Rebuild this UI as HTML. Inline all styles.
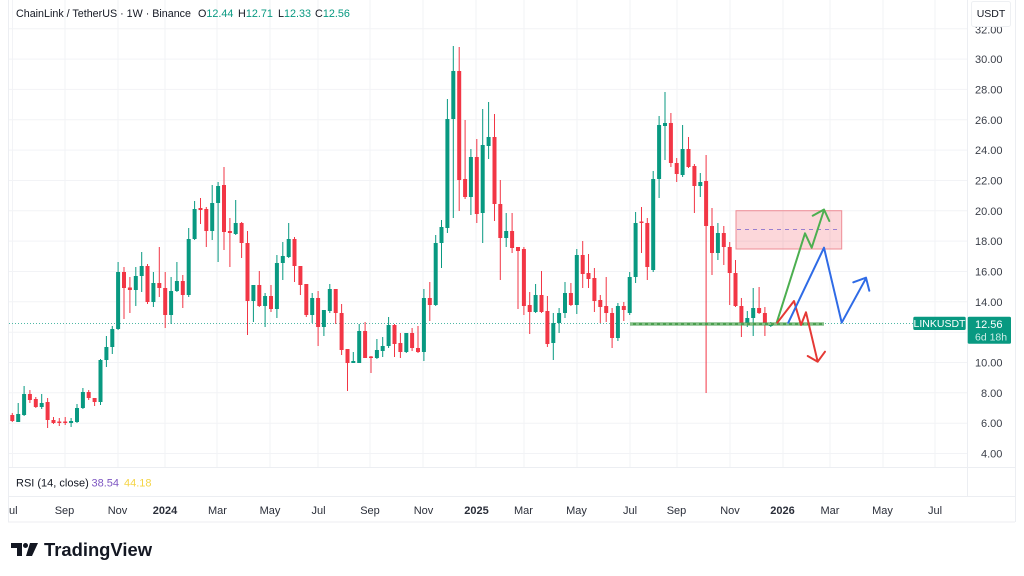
<!DOCTYPE html>
<html>
<head>
<meta charset="utf-8">
<style>
html,body{margin:0;padding:0;background:#fff;}
body{width:1024px;height:576px;overflow:hidden;font-family:"Liberation Sans",sans-serif;}
svg{display:block;}
text{font-family:"Liberation Sans",sans-serif;}
</style>
</head>
<body>
<svg width="1024" height="576" viewBox="0 0 1024 576" xmlns="http://www.w3.org/2000/svg">
<rect x="0" y="0" width="1024" height="576" fill="#ffffff"/>
<!-- frame -->
<g stroke="#eceef2" stroke-width="1" fill="none">
<line x1="8.5" y1="0" x2="8.5" y2="522"/>
<line x1="1015.5" y1="0" x2="1015.5" y2="522"/>
<line x1="8" y1="467.5" x2="1015" y2="467.5"/>
<line x1="8" y1="496.5" x2="1015" y2="496.5"/>
<line x1="8" y1="522" x2="1015" y2="522"/>
<line x1="967.5" y1="0" x2="967.5" y2="497"/>
</g>
<!-- horizontal grid -->
<g stroke="#f2f3f6" stroke-width="1">
<line x1="9" y1="28.8" x2="967" y2="28.8"/>
<line x1="9" y1="59.1" x2="967" y2="59.1"/>
<line x1="9" y1="89.4" x2="967" y2="89.4"/>
<line x1="9" y1="119.8" x2="967" y2="119.8"/>
<line x1="9" y1="150.1" x2="967" y2="150.1"/>
<line x1="9" y1="180.5" x2="967" y2="180.5"/>
<line x1="9" y1="210.8" x2="967" y2="210.8"/>
<line x1="9" y1="241.1" x2="967" y2="241.1"/>
<line x1="9" y1="271.5" x2="967" y2="271.5"/>
<line x1="9" y1="301.8" x2="967" y2="301.8"/>
<line x1="9" y1="332.2" x2="967" y2="332.2"/>
<line x1="9" y1="362.5" x2="967" y2="362.5"/>
<line x1="9" y1="392.8" x2="967" y2="392.8"/>
<line x1="9" y1="423.2" x2="967" y2="423.2"/>
<line x1="9" y1="453.5" x2="967" y2="453.5"/>
</g>
<!-- vertical grid -->
<g stroke="#f2f3f6" stroke-width="1">
<line x1="12.5" y1="0" x2="12.5" y2="467"/>
<line x1="65" y1="0" x2="65" y2="467"/>
<line x1="118" y1="0" x2="118" y2="467"/>
<line x1="165" y1="0" x2="165" y2="467"/>
<line x1="217" y1="0" x2="217" y2="467"/>
<line x1="270" y1="0" x2="270" y2="467"/>
<line x1="318" y1="0" x2="318" y2="467"/>
<line x1="370" y1="0" x2="370" y2="467"/>
<line x1="423" y1="0" x2="423" y2="467"/>
<line x1="476" y1="0" x2="476" y2="467"/>
<line x1="524" y1="0" x2="524" y2="467"/>
<line x1="577" y1="0" x2="577" y2="467"/>
<line x1="630" y1="0" x2="630" y2="467"/>
<line x1="677" y1="0" x2="677" y2="467"/>
<line x1="730" y1="0" x2="730" y2="467"/>
<line x1="783" y1="0" x2="783" y2="467"/>
<line x1="830" y1="0" x2="830" y2="467"/>
<line x1="883" y1="0" x2="883" y2="467"/>
<line x1="935" y1="0" x2="935" y2="467"/>
</g>

<!-- price line -->
<line x1="9" y1="323.5" x2="913" y2="323.5" stroke="#4fb8a5" stroke-width="1" stroke-dasharray="1 2"/>

<!-- rectangle zone -->
<rect x="736" y="210.7" width="105.7" height="38.3" fill="rgba(242,54,69,0.2)" stroke="#ee8d96" stroke-width="1"/>
<line x1="737" y1="229.5" x2="841" y2="229.5" stroke="#9a7fcf" stroke-width="1" stroke-dasharray="4 4"/>

<!-- green candles -->
<path stroke="#089981" stroke-width="1" fill="none" d="M18.2 403V422M24.1 386V416M41.7 394V409M71.1 418V427M77 404V423M82.9 388V409M100.5 359V405M106.4 336V367M112.3 326V354M118.1 262V330M135.8 267V306M141.7 252V292M153.4 272V307M171.1 277V324M176.9 262V292M188.7 228V297M194.6 201V240M212.2 185V240M218.1 182V262M235.7 200V235M253.4 285V322M265.1 293V327M276.9 255V318M282.8 242V280M288.7 223V258M312.2 293V323M323.9 310V336M329.8 284V313M353.3 352V363M359.2 324V363M376.9 339V359M382.7 337V357M388.6 317V348M406.3 333V353M423.9 289V361M435.7 235V306M441.5 220V268M447.4 99V233M453.3 46V218M470.9 149V215M482.7 109V243M488.6 102V159M506.2 213V247M535.6 284V313M553.3 313V360M559.1 308V333M565 282V318M576.8 249V314M617.9 303V341M629.7 272V315M635.6 212V283M653.2 171V272M659.1 116V198M665 92V160M682.6 125V177M700.3 173V197M717.9 223V260M747.3 311V327M753.2 288V336M770.8 322V327"/>
<path fill="#089981" d="M16.2 414h4V422h-4ZM22.1 394h4V415h-4ZM39.7 403h4V407h-4ZM69.1 421h4V423h-4ZM75 408h4V422h-4ZM80.9 392h4V408h-4ZM98.5 360h4V402h-4ZM104.4 347h4V360h-4ZM110.3 329h4V347h-4ZM116.1 272h4V329h-4ZM133.8 276h4V290h-4ZM139.7 266h4V276h-4ZM151.4 283h4V302h-4ZM169.1 291h4V315h-4ZM174.9 281h4V291h-4ZM186.7 239h4V295h-4ZM192.6 209h4V239h-4ZM210.2 203h4V231h-4ZM216.1 186h4V203h-4ZM233.7 223h4V234h-4ZM251.4 285h4V301h-4ZM263.1 296h4V306h-4ZM274.9 263h4V309h-4ZM280.8 256h4V263h-4ZM286.7 239h4V257h-4ZM310.2 298h4V315h-4ZM321.9 310h4V327h-4ZM327.8 289h4V311h-4ZM351.3 361h4V363h-4ZM357.2 331h4V363h-4ZM374.9 350h4V358h-4ZM380.7 346h4V351h-4ZM386.6 325h4V346h-4ZM404.3 333h4V352h-4ZM421.9 298h4V352h-4ZM433.7 243h4V305h-4ZM439.5 227h4V243h-4ZM445.4 119h4V228h-4ZM451.3 71h4V119h-4ZM468.9 157h4V197h-4ZM480.7 145h4V213h-4ZM486.6 137h4V146h-4ZM504.2 231h4V238h-4ZM533.6 295h4V312h-4ZM551.3 323h4V343h-4ZM557.1 313h4V323h-4ZM563 293h4V313h-4ZM574.8 255h4V305h-4ZM615.9 306h4V338h-4ZM627.7 277h4V313h-4ZM633.6 223h4V277h-4ZM651.2 179h4V270h-4ZM657.1 125h4V179h-4ZM663 123h4V126h-4ZM680.6 149h4V175h-4ZM698.3 182h4V186h-4ZM715.9 233h4V253h-4ZM745.3 318h4V325h-4ZM751.2 308h4V318h-4ZM768.8 323h4V326h-4Z"/>

<!-- red candles -->
<path stroke="#f23645" stroke-width="1" fill="none" d="M12.3 413V422M29.9 390V403M35.8 397V408M47.6 398V428M53.5 417V424M59.3 418V426M65.2 417V425M88.7 390V400M94.6 398V406M124 267V319M129.9 277V313M147.5 264V304M159.3 247V297M165.2 272V328M182.8 275V308M200.5 198V224M206.3 207V247M224 167V250M229.9 218V267M241.6 222V258M247.5 231V335M259.3 271V307M271 285V312M294.5 237V282M300.4 266V295M306.3 284V317M318.1 291V346M335.7 289V324M341.6 304V355M347.5 349V391M365.1 322V358M371 356V373M394.5 324V357M400.4 333V358M412.1 328V351M418 326V353M429.8 282V321M459.2 47V211M465.1 120V199M476.8 139V223M494.5 114V221M500.3 180V280M512.1 213V253M518 247V309M523.9 247V315M529.7 292V334M541.5 271V313M547.4 296V347M570.9 283V306M582.7 241V288M588.5 254V288M594.4 268V312M600.3 295V323M606.2 277V322M612.1 308V348M623.8 302V321M641.5 207V253M647.3 218V280M670.9 113V167M676.7 158V182M688.5 137V168M694.4 164V213M706.1 155V393M712 208V275M723.8 226V265M729.7 242V305M735.5 260V307M741.4 298V337M759.1 287V314M764.9 307V336"/>
<path fill="#f23645" d="M10.3 415h4V421h-4ZM27.9 394h4V400h-4ZM33.8 399h4V407h-4ZM45.6 402h4V420h-4ZM51.5 420h4V423h-4ZM57.3 421.5h4V423h-4ZM63.2 421.5h4V423h-4ZM86.7 392h4V398h-4ZM92.6 398h4V402h-4ZM122 272h4V288h-4ZM127.9 287.5h4V290h-4ZM145.5 266h4V302h-4ZM157.3 283h4V288h-4ZM163.2 288h4V315h-4ZM180.8 281h4V295h-4ZM198.5 208h4V210h-4ZM204.3 209h4V231h-4ZM222 185h4V232h-4ZM227.9 231h4V233h-4ZM239.6 223h4V243h-4ZM245.5 243h4V301h-4ZM257.3 285h4V306h-4ZM269 296h4V309h-4ZM292.5 239h4V266h-4ZM298.4 266h4V285h-4ZM304.3 284h4V315h-4ZM316.1 298h4V327h-4ZM333.7 289h4V313h-4ZM339.6 313h4V350h-4ZM345.5 349h4V363h-4ZM363.1 331h4V358h-4ZM369 356.5h4V358h-4ZM392.5 325h4V344h-4ZM398.4 343h4V352h-4ZM410.1 333h4V348h-4ZM416 348h4V352h-4ZM427.8 298h4V305h-4ZM457.2 71h4V180h-4ZM463.1 179h4V197h-4ZM474.8 157h4V214h-4ZM492.5 137h4V204h-4ZM498.3 204h4V238h-4ZM510.1 231h4V248h-4ZM516 247h4V251h-4ZM521.9 249h4V306h-4ZM527.7 305h4V312h-4ZM539.5 295h4V312h-4ZM545.4 311h4V344h-4ZM568.9 293h4V305h-4ZM580.7 255h4V274h-4ZM586.5 273h4V279h-4ZM592.4 278h4V301h-4ZM598.3 300h4V307h-4ZM604.2 306h4V313h-4ZM610.1 313h4V338h-4ZM621.8 306h4V310h-4ZM639.5 221.5h4V223h-4ZM645.3 223h4V267h-4ZM668.9 123h4V163h-4ZM674.7 163h4V174h-4ZM686.5 149h4V167h-4ZM692.4 166h4V186h-4ZM704.1 181h4V226h-4ZM710 226h4V253h-4ZM721.8 233h4V247h-4ZM727.7 247h4V273h-4ZM733.5 273h4V306h-4ZM739.4 306h4V325h-4ZM757.1 308h4V313h-4ZM762.9 313h4V325h-4Z"/>

<!-- support line -->
<line x1="630" y1="324" x2="824" y2="324" stroke="#4a9e4f" stroke-width="3"/>
<line x1="630" y1="324" x2="824" y2="324" stroke="#b9dfb9" stroke-width="1" stroke-dasharray="3 3"/>

<!-- arrows -->
<g fill="none" stroke-width="2" stroke-linejoin="round" stroke-linecap="round">
<path stroke="#4caf50" d="M776.7 322.7L805 233.3L811.7 247.7L824 210M812.7 215.7L824 209.5L829.3 221"/>
<path stroke="#e53935" d="M777.3 322.7L794 301L801 325L806 312.3L817.7 361.7M807.7 356L817.7 361.7L825 351.7"/>
<path stroke="#2f6be6" d="M788.3 322.7L824 247.7L841.7 322.7L866 278.3M853.3 282.3L866 277.7L869.3 290.7"/>
</g>

<!-- header -->
<text x="16" y="16.8" font-size="10.8" fill="#131722" textLength="175" lengthAdjust="spacingAndGlyphs">ChainLink / TetherUS · 1W · Binance</text>
<text x="198" y="16.8" font-size="10.8" fill="#131722">O<tspan fill="#089981">12.44</tspan></text>
<text x="238" y="16.8" font-size="10.8" fill="#131722">H<tspan fill="#089981">12.71</tspan></text>
<text x="278" y="16.8" font-size="10.8" fill="#131722">L<tspan fill="#089981">12.33</tspan></text>
<text x="315" y="16.8" font-size="10.8" fill="#131722">C<tspan fill="#089981">12.56</tspan></text>

<!-- price axis labels -->
<g font-size="11" fill="#3a3e48">
<text x="975" y="33.5">32.00</text>
<text x="975" y="63.1">30.00</text>
<text x="975" y="93.4">28.00</text>
<text x="975" y="123.8">26.00</text>
<text x="975" y="154.1">24.00</text>
<text x="975" y="184.5">22.00</text>
<text x="975" y="214.8">20.00</text>
<text x="975" y="245.1">18.00</text>
<text x="975" y="275.5">16.00</text>
<text x="975" y="305.8">14.00</text>
<text x="975" y="366.5">10.00</text>
<text x="981" y="396.8">8.00</text>
<text x="981" y="427.2">6.00</text>
<text x="981" y="457.5">4.00</text>
</g>
<!-- USDT box -->
<rect x="971.5" y="1.5" width="39" height="25" rx="2" fill="#ffffff" stroke="#eef0f3"/>
<text x="991" y="17" font-size="10.5" fill="#131722" text-anchor="middle">USDT</text>

<!-- price labels -->
<rect x="913.3" y="316.7" width="52.4" height="13.3" rx="1.5" fill="#089981"/>
<text x="939.5" y="327.2" font-size="10.5" fill="#ffffff" text-anchor="middle">LINKUSDT</text>
<rect x="967.7" y="316.7" width="43.3" height="27" rx="1.5" fill="#089981"/>
<text x="975" y="327.8" font-size="11" fill="#ffffff">12.56</text>
<text x="975" y="340.5" font-size="10.5" fill="#cdeee7">6d 18h</text>

<!-- RSI legend -->
<text x="16" y="486.5" font-size="11" fill="#131722">RSI (14, close)</text>
<text x="91.5" y="486.5" font-size="11" fill="#7e57c2">38.54</text>
<text x="124" y="486.5" font-size="11" fill="#f5d547">44.18</text>

<!-- time axis -->
<g font-size="11" fill="#2a2e39" text-anchor="middle">
<text x="9" y="514" text-anchor="start">ul</text>
<text x="64.5" y="514">Sep</text>
<text x="117.5" y="514">Nov</text>
<text x="165" y="514" font-weight="bold">2024</text>
<text x="217.5" y="514">Mar</text>
<text x="270" y="514">May</text>
<text x="318.5" y="514">Jul</text>
<text x="370" y="514">Sep</text>
<text x="423.5" y="514">Nov</text>
<text x="476.5" y="514" font-weight="bold">2025</text>
<text x="523.5" y="514">Mar</text>
<text x="576.5" y="514">May</text>
<text x="630" y="514">Jul</text>
<text x="676.5" y="514">Sep</text>
<text x="730" y="514">Nov</text>
<text x="782.5" y="514" font-weight="bold">2026</text>
<text x="830" y="514">Mar</text>
<text x="882.5" y="514">May</text>
<text x="935" y="514">Jul</text>
</g>

<!-- TradingView logo -->
<g fill="#131722">
<path d="M11 543h11v13h-5v-8h-6z"/>
<circle cx="25.5" cy="545.5" r="2.5"/>
<path d="M30 543h8l-6 13h-6z"/>
</g>
<text x="44" y="556" font-size="18" font-weight="bold" fill="#131722" textLength="108" lengthAdjust="spacingAndGlyphs">TradingView</text>
</svg>
</body>
</html>
